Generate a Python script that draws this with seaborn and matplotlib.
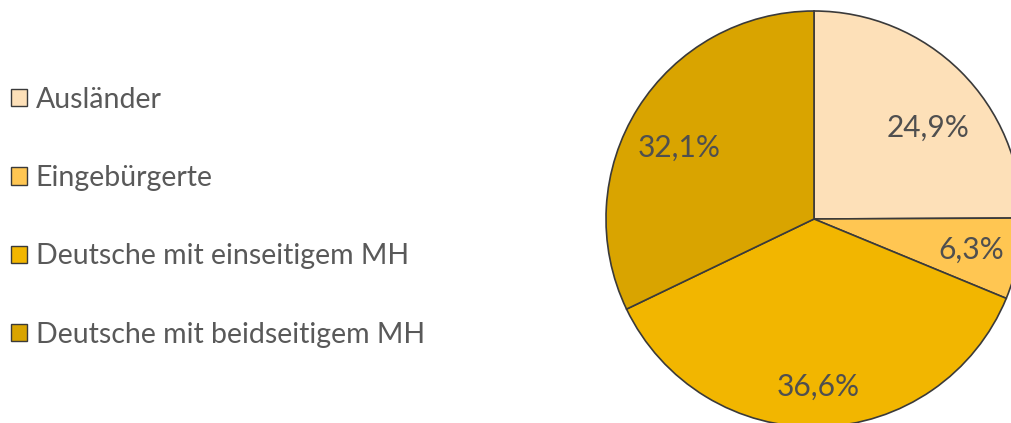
import matplotlib
matplotlib.use('Agg')
import matplotlib.pyplot as plt
import seaborn as sns

# Daten
labels = ['Ausländer', 'Eingebürgerte', 'Deutsche mit einseitigem MH', 'Deutsche mit beidseitigem MH']
anteile = [24.9, 6.3, 36.6, 32.1]
farben = ['#FDE0B8', '#FFC652', '#F2B600', '#D9A400']

sns.set_theme(style='white')
plt.rcParams['font.family'] = ['Lato', 'DejaVu Sans']

fig = plt.figure(figsize=(10.12, 4.23), dpi=100)
fig.patch.set_facecolor('white')

# Kreis etwas über den unteren/rechten Rand hinaus, wie im Original
W, H = 1012, 423
cx, cy, r = 814, 219, 208
ax = fig.add_axes([(cx - r) / W, (H - cy - r) / H, 2 * r / W, 2 * r / H])

wedges, texts, autotexts = ax.pie(
    anteile,
    colors=sns.color_palette(farben),
    startangle=90,
    counterclock=False,
    autopct=lambda p: f'{p:.1f}%'.replace('.', ','),
    pctdistance=0.77,
    radius=1,
    wedgeprops=dict(edgecolor='#3a3a3a', linewidth=1.2),
    textprops=dict(color='#4f4f4f', fontsize=21.5),
)
for w in wedges:
    w.set_clip_on(False)
# Beschriftungen etwas verschoben, wie im Original
autotexts[0].set_position((0.55, 0.44))
autotexts[2].set_position((0.02, -0.805))
autotexts[3].set_position((-0.65, 0.34))

ax.set_xlim(-1, 1)
ax.set_ylim(-1, 1)
ax.set_aspect('equal')
ax.axis('off')

leg = fig.legend(
    wedges, labels,
    loc='upper left',
    bbox_to_anchor=(0.0, 0.822),
    frameon=False,
    fontsize=20.5,
    handlelength=0.55,
    handleheight=0.55,
    handletextpad=0.3,
    labelspacing=1.84,
    borderaxespad=0,
)
for t in leg.get_texts():
    t.set_color('#595959')
for h in leg.legend_handles:
    h.set_linewidth(1.0)

fig.savefig('out.png', dpi=100, facecolor='white')
